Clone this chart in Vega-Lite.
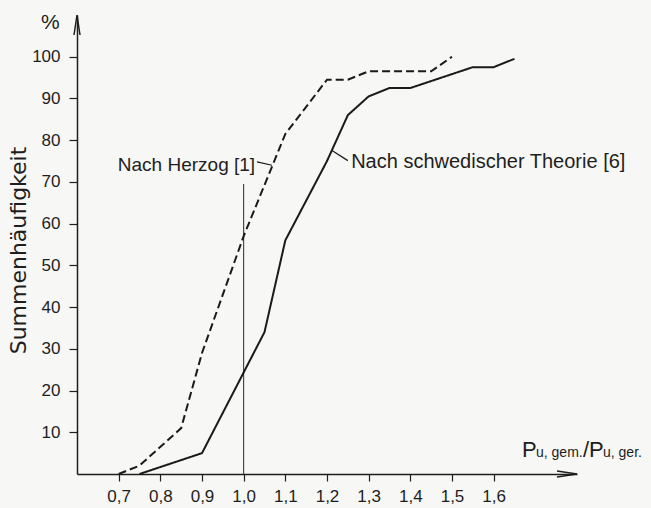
{
  "$schema": "https://vega.github.io/schema/vega-lite/v6.json",
  "width": 500,
  "height": 459,
  "autosize": {"type": "none"},
  "padding": {"left": 77, "top": 15, "right": 74, "bottom": 34},
  "background": "#f7f7f5",
  "config": {"view": {"stroke": null}, "font": "Liberation Sans, sans-serif"},
  "datasets": {
    "curves": [
      {"series": "Nach Herzog [1]", "x": 0.7, "y": 0},
      {"series": "Nach Herzog [1]", "x": 0.75, "y": 2},
      {"series": "Nach Herzog [1]", "x": 0.85, "y": 11},
      {"series": "Nach Herzog [1]", "x": 0.9, "y": 29},
      {"series": "Nach Herzog [1]", "x": 1.0, "y": 57},
      {"series": "Nach Herzog [1]", "x": 1.1, "y": 81.5},
      {"series": "Nach Herzog [1]", "x": 1.2, "y": 94.5},
      {"series": "Nach Herzog [1]", "x": 1.25, "y": 94.5},
      {"series": "Nach Herzog [1]", "x": 1.3, "y": 96.5},
      {"series": "Nach Herzog [1]", "x": 1.45, "y": 96.5},
      {"series": "Nach Herzog [1]", "x": 1.5, "y": 100},
      {"series": "Nach schwedischer Theorie [6]", "x": 0.75, "y": 0},
      {"series": "Nach schwedischer Theorie [6]", "x": 0.9, "y": 5},
      {"series": "Nach schwedischer Theorie [6]", "x": 1.05, "y": 34},
      {"series": "Nach schwedischer Theorie [6]", "x": 1.1, "y": 56},
      {"series": "Nach schwedischer Theorie [6]", "x": 1.2, "y": 75},
      {"series": "Nach schwedischer Theorie [6]", "x": 1.25, "y": 86},
      {"series": "Nach schwedischer Theorie [6]", "x": 1.3, "y": 90.5},
      {"series": "Nach schwedischer Theorie [6]", "x": 1.35, "y": 92.5},
      {"series": "Nach schwedischer Theorie [6]", "x": 1.4, "y": 92.5},
      {"series": "Nach schwedischer Theorie [6]", "x": 1.55, "y": 97.5},
      {"series": "Nach schwedischer Theorie [6]", "x": 1.6, "y": 97.5},
      {"series": "Nach schwedischer Theorie [6]", "x": 1.65, "y": 99.5}
    ],
    "ref": [{"x": 1.0, "y": 0, "y2": 69.5}],
    "leaders": [
      {"x": 1.032, "y": 74.8, "x2": 1.068, "y2": 74.0},
      {"x": 1.212, "y": 77.5, "x2": 1.25, "y2": 75.1}
    ],
    "labelRight": [{"text": "Nach Herzog [1]", "x": 1.0275, "y": 72.5}],
    "labelLeft": [{"text": "Nach  schwedischer Theorie [6]", "x": 1.258, "y": 73.3}],
    "percent": [{"text": "%", "x": 0.536, "y": 108}],
    "titleBig": [{"text": "P", "x": 1.668, "y": 4.1}, {"text": "/", "x": 1.8144, "y": 4.1}, {"text": "P", "x": 1.8288, "y": 4.1}],
    "titleSmall": [{"text": "u, gem.", "x": 1.7016, "y": 4.1}, {"text": "u, ger.", "x": 1.8624, "y": 4.1}],
    "arrows": [{"x": 1.8, "y": 0, "dir": "right"}, {"x": 0.6, "y": 110, "dir": "up"}]
  },
  "layer": [
    {
      "data": {"name": "ref"},
      "mark": {"type": "rule", "color": "#2a2a2a", "strokeWidth": 1},
      "encoding": {
        "x": {"field": "x", "type": "quantitative", "scale": {"domain": [0.6, 1.8], "nice": false, "zero": false},
          "axis": {"values": [0.7, 0.8, 0.9, 1.0, 1.1, 1.2, 1.3, 1.4, 1.5, 1.6], "labelExpr": "replace(format(datum.value, '.1f'), '.', ',')", "title": null, "grid": false, "domainColor": "#1e1e1e", "domainWidth": 1.5, "tickColor": "#1e1e1e", "tickWidth": 1.2, "tickSize": 7, "labelFontSize": 17, "labelColor": "#1e1e1e", "labelPadding": 7, "labelFlush": false}},
        "y": {"field": "y", "type": "quantitative", "scale": {"domain": [0, 110], "nice": false},
          "axis": {"values": [10, 20, 30, 40, 50, 60, 70, 80, 90, 100], "title": "Summenhäufigkeit", "titleFont": "DejaVu Sans", "titleFontSize": 22, "titleFontWeight": "normal", "titleColor": "#1e1e1e", "titleAngle": -90, "titleX": -59, "titleY": 235, "titleAlign": "center", "titleBaseline": "middle", "grid": false, "domainColor": "#1e1e1e", "domainWidth": 1.5, "tickColor": "#1e1e1e", "tickWidth": 1.2, "tickSize": 8, "labelFontSize": 17, "labelColor": "#1e1e1e", "labelPadding": 9, "labelFlush": false}},
        "y2": {"field": "y2"}
      }
    },
    {
      "data": {"name": "curves"},
      "mark": {"type": "line", "color": "#1a1a1a", "strokeWidth": 2},
      "encoding": {
        "x": {"field": "x", "type": "quantitative", "scale": {"domain": [0.6, 1.8], "nice": false, "zero": false}},
        "y": {"field": "y", "type": "quantitative", "scale": {"domain": [0, 110], "nice": false}},
        "strokeDash": {"field": "series", "type": "nominal", "scale": {"domain": ["Nach Herzog [1]", "Nach schwedischer Theorie [6]"], "range": [[8, 4], [1, 0]]}, "legend": null}
      }
    },
    {
      "data": {"name": "leaders"},
      "mark": {"type": "rule", "color": "#1a1a1a", "strokeWidth": 1.2},
      "encoding": {
        "x": {"field": "x", "type": "quantitative"},
        "y": {"field": "y", "type": "quantitative"},
        "x2": {"field": "x2"},
        "y2": {"field": "y2"}
      }
    },
    {
      "data": {"name": "labelRight"},
      "mark": {"type": "text", "align": "right", "baseline": "alphabetic", "fontSize": 19, "color": "#1e1e1e"},
      "encoding": {
        "x": {"field": "x", "type": "quantitative"},
        "y": {"field": "y", "type": "quantitative"},
        "text": {"field": "text"}
      }
    },
    {
      "data": {"name": "labelLeft"},
      "mark": {"type": "text", "align": "left", "baseline": "alphabetic", "fontSize": 20, "color": "#1e1e1e"},
      "encoding": {
        "x": {"field": "x", "type": "quantitative"},
        "y": {"field": "y", "type": "quantitative"},
        "text": {"field": "text"}
      }
    },
    {
      "data": {"name": "percent"},
      "mark": {"type": "text", "align": "center", "baseline": "middle", "fontSize": 21, "color": "#1e1e1e"},
      "encoding": {
        "x": {"field": "x", "type": "quantitative"},
        "y": {"field": "y", "type": "quantitative"},
        "text": {"field": "text"}
      }
    },
    {
      "data": {"name": "titleBig"},
      "mark": {"type": "text", "align": "left", "baseline": "alphabetic", "fontSize": 22, "color": "#1e1e1e"},
      "encoding": {
        "x": {"field": "x", "type": "quantitative"},
        "y": {"field": "y", "type": "quantitative"},
        "text": {"field": "text"}
      }
    },
    {
      "data": {"name": "titleSmall"},
      "mark": {"type": "text", "align": "left", "baseline": "alphabetic", "fontSize": 14, "color": "#1e1e1e"},
      "encoding": {
        "x": {"field": "x", "type": "quantitative"},
        "y": {"field": "y", "type": "quantitative"},
        "text": {"field": "text"}
      }
    },
    {
      "data": {"name": "arrows"},
      "mark": {"type": "point", "filled": false, "color": "#1e1e1e", "strokeWidth": 1.5, "opacity": 1},
      "encoding": {
        "x": {"field": "x", "type": "quantitative"},
        "y": {"field": "y", "type": "quantitative"},
        "shape": {"field": "dir", "type": "nominal", "scale": {"domain": ["right", "up"], "range": ["M-1,-0.15L0,0L-1,0.15", "M-0.15,1L0,0L0.15,1"]}, "legend": null},
        "size": {"value": 1600}
      }
    }
  ]
}
